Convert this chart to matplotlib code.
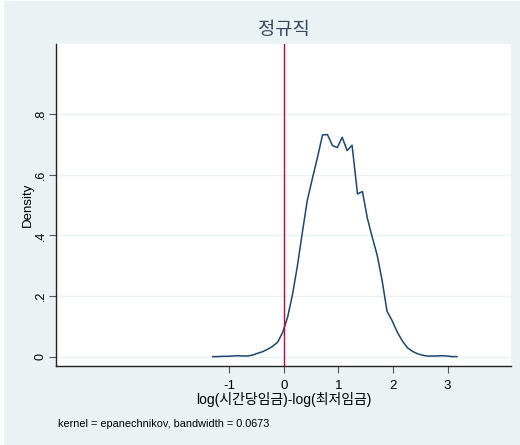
import matplotlib
matplotlib.use("Agg")
import matplotlib.pyplot as plt
from matplotlib.patches import Rectangle

# kdensity estimate, 50 evaluation points
x_vals = [-1.30, -1.21, -1.12, -1.03, -0.94, -0.84, -0.75, -0.66, -0.57, -0.48,
          -0.39, -0.30, -0.21, -0.11, -0.02, 0.07, 0.16, 0.25, 0.34, 0.43,
          0.52, 0.62, 0.71, 0.80, 0.89, 0.98, 1.07, 1.16, 1.25, 1.35,
          1.44, 1.53, 1.62, 1.71, 1.80, 1.89, 1.98, 2.08, 2.17, 2.26,
          2.35, 2.44, 2.53, 2.62, 2.71, 2.80, 2.90, 2.99, 3.08, 3.17]
density = [0.000, 0.000, 0.001, 0.001, 0.002, 0.003, 0.002, 0.002, 0.005, 0.011,
           0.016, 0.024, 0.033, 0.048, 0.080, 0.130, 0.205, 0.300, 0.410, 0.515,
           0.585, 0.660, 0.732, 0.733, 0.697, 0.690, 0.724, 0.680, 0.698, 0.537,
           0.545, 0.457, 0.394, 0.335, 0.252, 0.150, 0.120, 0.080, 0.052, 0.030,
           0.018, 0.010, 0.005, 0.002, 0.002, 0.002, 0.003, 0.002, 0.000, 0.000]

x_ticks = [-1, 0, 1, 2, 3]
y_ticks = [0, 0.2, 0.4, 0.6, 0.8]
y_tick_labels = ["0", ".2", ".4", ".6", ".8"]

title = "정규직"
x_label = "log(시간당임금)-log(최저임금)"
note = "kernel = epanechnikov, bandwidth = 0.0673"

BG = "#eaf2f3"
LINE = "#1a476f"
FONTS = ["Liberation Sans", "Noto Sans CJK KR", "DejaVu Sans"]
plt.rcParams["font.family"] = FONTS

fig = plt.figure(figsize=(5.2, 4.45), dpi=100, facecolor="white")
fig.patches.append(Rectangle((4 / 520, 0), 1, 444 / 445, transform=fig.transFigure,
                             facecolor=BG, edgecolor="none", zorder=-10))

ax = fig.add_axes([56 / 520, 1 - 366 / 445, 455 / 520, 322 / 445])
ax.set_facecolor("white")

ax.plot(x_vals, density, color=LINE, lw=1.1, zorder=3)
ax.axvline(0, color="#c10534", lw=1.0, zorder=4)

ax.set_xlim(-4.17, 4.16)
ax.set_ylim(-0.031, 1.032)
ax.set_xticks(x_ticks)
ax.set_xticklabels([str(t) for t in x_ticks])
ax.set_yticks(y_ticks)
ax.set_yticklabels(y_tick_labels, rotation=90, va="center")
ax.yaxis.grid(True, color=BG, lw=1.0)
ax.set_axisbelow(True)

for side in ("top", "right"):
    ax.spines[side].set_visible(False)
for side in ("left", "bottom"):
    ax.spines[side].set_color("#222222")
    ax.spines[side].set_linewidth(1.0)

ax.tick_params(axis="both", direction="out", length=5, width=0.8, color="#555555",
               labelsize=9.5)
ax.tick_params(axis="x", pad=5)
ax.tick_params(axis="y", labelsize=9, pad=1.5)

ax.set_ylabel("Density", fontsize=9.5, labelpad=1)
ax.set_xlabel(x_label, fontsize=10, labelpad=0)
fig.text(283.5 / 520, 1 - 31 / 445, title, ha="center", va="center",
         fontsize=13.5, color="#34475f")
fig.text(58 / 520, 1 - 424 / 445, note, ha="left", va="center", fontsize=7.8)

fig.savefig("out.png", dpi=100, facecolor=fig.get_facecolor())
